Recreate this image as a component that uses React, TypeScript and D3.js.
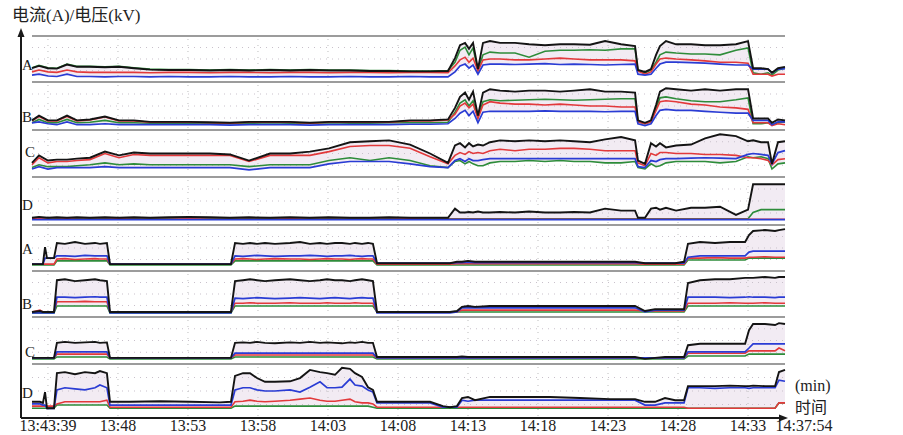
import React from 'react';
import * as d3 from 'd3';

// sample times, minutes after 13:00
const upperMinutes = [41.86, 42.36, 43.0, 43.64, 44.36, 45.07, 46.0, 47.07, 48.07, 49.14, 50.29, 51.64, 53.07, 54.57, 56.0, 57.36, 58.86, 60.29, 61.71, 63.07, 64.57, 66.0, 67.36, 68.86, 70.29, 71.57, 72.07, 72.43, 72.79, 73.07, 73.36, 73.71, 74.07, 74.57, 75.29, 76.36, 77.36, 78.5, 79.57, 80.57, 81.71, 82.79, 83.93, 84.93, 85.14, 85.64, 86.07, 86.43, 86.71, 87.14, 87.86, 88.93, 89.93, 91.0, 92.14, 93.0, 93.36, 93.93, 94.43, 94.71, 95.14, 95.64];
const lowerMinutes = [41.86, 42.43, 42.64, 42.79, 42.93, 43.43, 43.64, 44.21, 44.93, 45.64, 46.36, 46.71, 47.21, 47.43, 48.86, 51.0, 53.14, 55.29, 56.07, 56.36, 56.93, 57.43, 57.93, 58.5, 59.21, 60.29, 61.0, 61.71, 62.43, 62.93, 63.5, 64.0, 64.57, 64.93, 65.43, 65.86, 66.21, 66.5, 68.14, 70.29, 71.21, 71.71, 72.21, 72.57, 73.0, 73.5, 74.57, 76.71, 78.86, 81.0, 83.14, 84.93, 85.64, 86.36, 87.07, 87.79, 88.43, 88.71, 89.57, 90.64, 91.71, 92.79, 93.07, 93.36, 94.21, 94.93, 95.21, 95.64];

const tickMinutes = [43, 48, 53, 58, 63, 68, 73, 78, 83, 88, 93, 97];
const tickLabels = ['13:43:39', '13:48', '13:53', '13:58', '14:03', '14:08', '14:13', '14:18', '14:23', '14:28', '14:33', '14:37:54'];
const panelLabels = ['A', 'B', 'C', 'D', 'A', 'B', 'C', 'D'];

// values in % of each strip's height
const upperABlack = [30,35,30,29,38,33,33,32,33,30,27,26,26,25,26,25,26,25,26,25,25,24,24,23,23,24,52,80,85,72,85,28,85,89,85,85,82,80,82,82,81,89,82,78,26,22,28,59,78,89,82,82,80,80,82,89,30,30,28,20,30,33];
const upperAGreen = [31,36,31,30,39,34,34,33,34,31,28,27,27,26,27,26,27,26,27,26,26,25,25,24,24,25,43,69,76,59,74,26,59,65,63,63,54,67,69,69,70,69,72,72,24,20,26,43,59,65,63,61,61,59,69,74,20,17,20,15,26,30];
const upperARed = [22,26,22,21,26,22,21,21,21,21,20,21,21,20,21,21,20,21,21,20,21,21,20,21,21,20,35,48,54,43,52,24,48,50,50,48,48,50,52,50,48,48,48,46,24,17,22,39,50,52,50,48,46,43,43,41,17,17,17,13,17,17];
const upperABlue = [15,17,13,12,17,12,12,11,12,12,11,12,11,11,12,11,11,12,11,11,12,11,11,12,11,11,22,35,39,30,37,17,37,39,39,38,39,40,38,39,38,37,38,39,17,15,17,30,39,43,43,42,41,39,37,37,28,28,28,20,28,29];

const upperBBlack = [20,30,20,20,30,20,22,28,20,20,17,17,17,16,15,17,17,17,15,17,17,17,17,20,20,22,46,69,78,63,80,30,78,85,82,80,82,82,80,82,85,80,80,78,20,15,20,52,80,87,85,82,85,82,85,85,24,24,24,15,22,20];
const upperBGreen = [15,22,15,15,22,15,16,20,15,15,14,14,14,14,13,14,15,14,14,15,14,14,15,15,15,16,37,56,63,50,61,26,59,63,61,62,63,64,63,62,63,64,65,65,17,13,17,46,67,69,65,61,59,59,63,67,13,13,15,11,15,17];
const upperBRed = [19,28,19,19,28,19,21,27,19,19,16,16,16,15,14,16,16,16,14,16,16,16,16,19,19,21,33,50,56,46,54,24,52,59,56,54,54,52,54,52,50,50,48,48,17,13,17,41,59,61,59,54,52,48,46,43,15,15,15,9,13,11];
const upperBBlue = [15,17,13,11,17,11,11,13,11,11,11,11,11,11,10,11,11,11,10,11,11,11,11,12,12,13,24,35,41,30,39,15,37,39,39,39,39,40,39,39,39,38,39,39,13,9,13,30,41,43,41,41,39,37,35,35,20,20,20,11,17,17];

const upperCBlack = [30,46,35,37,37,39,41,54,46,52,50,50,50,50,48,35,50,50,54,61,74,76,78,69,50,30,67,72,63,72,65,69,67,74,78,76,78,76,78,76,74,80,85,78,35,28,72,65,72,63,67,69,82,91,87,76,78,74,74,28,74,76];
const upperCRed = [26,41,30,33,33,35,37,50,41,48,46,46,46,46,46,33,46,46,46,54,65,67,67,61,43,28,46,52,48,54,50,52,50,56,59,56,59,59,61,61,59,56,56,56,30,24,50,46,52,52,50,50,48,48,46,41,41,39,35,26,37,39];
const upperCGreen = [20,26,22,22,22,24,26,30,26,28,26,26,26,26,26,22,26,26,26,35,41,35,41,35,24,20,33,35,28,33,28,24,24,30,33,33,35,33,35,33,33,30,30,33,20,17,28,22,24,30,33,33,33,30,33,43,41,43,39,17,28,30];
const upperCBlue = [17,22,17,20,20,20,20,22,20,20,20,20,20,20,20,15,20,20,20,28,33,33,33,28,22,20,35,39,33,39,35,35,37,39,39,39,39,39,39,39,39,39,39,39,22,20,35,33,37,39,39,40,41,40,39,48,50,48,46,28,52,56];

const upperDBlack = [15,17,15,16,15,16,15,16,15,16,15,16,17,16,15,16,15,16,15,16,15,15,16,15,15,15,34,26,26,27,26,28,26,26,27,26,28,26,26,27,26,34,30,30,15,15,34,36,32,36,30,36,36,38,21,32,85,85,85,85,85,85];
const upperDGreen = [14,15,13,13,14,13,13,13,14,13,13,13,14,13,13,13,13,14,13,13,13,13,13,14,13,13,13,13,13,13,13,13,13,13,13,13,13,13,13,13,13,13,13,13,13,13,13,13,13,13,13,13,13,13,13,13,26,32,32,32,32,32];
const upperDRed = [13,13,12,12,13,12,12,12,13,12,12,12,13,12,12,12,12,13,12,12,12,12,12,13,12,12,12,12,12,12,12,12,12,12,12,12,12,12,12,12,12,12,12,12,12,12,12,12,12,12,12,12,12,12,12,12,12,12,12,12,12,12];
const upperDBlue = [11,11,11,11,11,11,11,11,11,11,11,11,11,11,11,11,11,11,11,11,11,11,11,11,11,11,11,11,11,11,11,11,11,11,11,11,11,11,11,11,11,11,11,11,11,11,11,11,11,11,11,11,11,11,11,11,11,11,11,11,11,11];

const lowerABlack = [15,15,15,52,28,28,61,59,63,59,61,59,61,15,15,15,15,15,15,61,59,61,59,61,59,61,63,59,61,59,61,61,59,61,59,61,59,17,17,17,17,17,20,20,22,20,20,20,20,20,20,20,17,17,17,17,20,59,63,61,63,63,78,87,89,87,89,91];
const lowerABlue = [15,15,15,28,28,28,33,33,32,34,33,33,33,15,15,15,15,15,15,33,32,33,34,33,32,33,33,34,33,32,33,33,34,33,32,33,33,17,17,17,17,17,18,18,19,18,18,18,18,18,18,18,17,17,17,17,17,30,33,33,33,33,41,43,43,43,43,43];
const lowerARed = [15,15,15,15,15,15,26,27,25,26,27,26,26,15,15,15,15,15,15,26,27,26,25,26,27,26,26,25,26,27,26,26,25,26,27,26,26,15,15,15,15,15,16,16,16,16,16,16,16,16,16,16,15,15,15,15,15,28,28,29,28,28,30,30,31,30,30,30];
const lowerAGreen = [13,13,13,13,13,13,22,22,22,22,22,22,22,13,13,13,13,13,13,22,22,22,22,22,22,22,22,22,22,22,22,22,22,22,22,22,22,13,13,13,13,13,13,13,13,13,13,13,13,13,13,13,13,13,13,13,13,24,24,24,24,24,28,28,28,28,28,28];

const lowerBBlack = [11,13,11,11,11,11,80,82,78,80,82,80,78,11,11,11,11,11,11,78,80,82,80,78,80,82,80,78,80,82,80,80,78,80,82,80,78,11,11,11,11,11,13,22,24,22,24,24,24,24,24,24,13,17,17,17,17,74,80,82,82,85,85,85,87,85,87,87];
const lowerBBlue = [9,9,9,9,9,9,43,43,42,43,44,43,43,9,9,9,9,9,9,41,40,41,42,41,40,41,42,41,40,41,42,41,40,41,42,41,41,9,9,9,9,9,11,20,20,20,20,20,20,20,20,20,11,15,15,15,15,43,43,43,42,43,44,43,43,42,43,43];
const lowerBRed = [11,15,11,11,11,11,33,33,33,34,33,33,33,11,11,11,11,11,11,30,30,31,30,30,30,31,30,30,30,31,30,30,30,31,30,30,30,11,11,11,11,11,11,15,15,15,15,15,15,15,15,15,13,13,13,13,13,30,30,30,31,30,30,30,31,30,30,30];
const lowerBGreen = [9,9,9,9,9,9,24,24,24,24,24,24,24,9,9,9,9,9,9,24,24,24,24,24,24,24,24,24,24,24,24,24,24,24,24,24,24,11,11,11,11,11,11,11,11,11,11,11,11,11,11,11,11,11,11,11,11,24,24,24,24,24,24,24,24,24,24,24];

const lowerCBlack = [13,13,13,13,13,13,45,47,45,46,47,45,46,13,13,13,13,13,13,45,46,45,47,45,44,46,45,47,45,46,45,44,46,45,47,45,45,15,15,15,15,15,15,16,15,15,15,15,15,15,15,15,11,13,15,15,15,40,43,43,43,43,72,85,85,83,87,85];
const lowerCBlue = [13,13,13,13,13,13,26,26,26,26,26,26,26,13,13,13,13,13,13,23,23,23,23,23,23,23,23,23,23,23,23,23,23,23,23,23,23,13,13,13,13,13,13,13,13,13,13,13,13,13,13,13,13,13,13,13,13,26,26,26,26,26,34,43,43,43,43,43];
const lowerCRed = [13,13,13,13,13,13,21,21,21,21,21,21,21,13,13,13,13,13,13,19,19,19,19,19,19,19,19,19,19,19,19,19,19,19,19,19,19,13,13,13,13,13,13,13,13,13,13,13,13,13,13,13,13,13,13,13,13,23,23,23,23,23,28,28,28,28,34,28];
const lowerCGreen = [11,11,11,11,11,11,15,15,15,15,15,15,15,11,11,11,11,11,11,15,15,15,15,15,15,15,15,15,15,15,15,15,15,15,15,15,15,11,11,11,11,11,11,11,11,11,11,11,11,11,11,11,11,11,11,11,11,17,17,17,17,17,21,21,21,21,21,21];

const lowerDBlack = [30,30,28,48,18,18,83,85,81,85,83,87,83,30,30,31,30,29,30,78,83,83,74,67,67,68,74,89,85,83,80,93,91,83,76,57,52,30,30,30,22,20,22,37,39,33,39,39,39,37,35,35,30,30,37,33,33,59,59,59,60,59,59,60,59,59,85,89];
const lowerDBlue = [26,26,24,24,18,18,52,56,54,52,56,61,56,24,24,24,24,24,24,52,56,56,52,50,50,52,48,57,67,56,56,57,72,61,59,52,48,28,28,28,20,20,20,33,31,33,33,33,33,33,33,33,24,24,28,28,28,56,56,55,56,56,55,56,56,56,70,68];
const lowerDRed = [22,22,22,22,22,22,26,30,30,30,30,30,33,20,20,20,20,20,20,30,31,33,31,30,31,33,35,37,33,31,31,33,35,30,28,28,26,20,20,20,20,20,20,20,20,20,20,20,20,20,20,20,20,20,20,20,20,18,18,18,18,18,18,18,18,18,28,28];
const lowerDGreen = [18,18,18,18,18,18,24,24,24,24,24,24,24,18,18,18,18,18,18,22,22,22,22,22,22,22,22,22,22,22,22,22,22,22,22,22,20,18,18,18,18,18,18,18,18,18,18,18,18,18,18,18,18,18,18,18,18,18,18,18,18,18,18,18,18,18,28,28];

const panelSeries = [
  [upperABlack, upperARed, upperAGreen, upperABlue],
  [upperBBlack, upperBRed, upperBGreen, upperBBlue],
  [upperCBlack, upperCRed, upperCGreen, upperCBlue],
  [upperDBlack, upperDRed, upperDGreen, upperDBlue],
  [lowerABlack, lowerARed, lowerAGreen, lowerABlue],
  [lowerBBlack, lowerBRed, lowerBGreen, lowerBBlue],
  [lowerCBlack, lowerCRed, lowerCGreen, lowerCBlue],
  [lowerDBlack, lowerDRed, lowerDGreen, lowerDBlue],
];

// layout
const W = 903, H = 435;
const stripTop = [36, 82, 130, 177, 225, 271, 317, 364];
const axisY = 418;
const labelLift = [12, 8, 20, 15, 17, 8, 7, 20];
const colors = { black: '#141414', red: '#e2393b', green: '#2e8c3a', blue: '#2a3cd4' };
const serif = "'Liberation Serif', 'Noto Sans CJK SC', serif";

const toDate = (m: number) => new Date(2000, 0, 1, 13, 0, 0, Math.round(m * 60000));

export default function App() {
  const x = d3.scaleTime()
    .domain([toDate(41.86), toDate(95.64)])
    .range([32, 785]);

  const strips = panelSeries.map((series, i) => {
    const top = stripTop[i];
    const bottom = i < 7 ? stripTop[i + 1] : axisY;
    const y = d3.scaleLinear().domain([0, 100]).range([bottom, top]);
    const times = i < 4 ? upperMinutes : lowerMinutes;
    const rows = times.map((m, k) => ({
      t: toDate(m),
      black: series[0][k],
      red: series[1][k],
      green: series[2][k],
      blue: series[3][k],
    }));
    return { top, bottom, y, rows };
  });

  const gridTicks = tickMinutes.slice(0, -1);

  return (
    <svg width={W} height={H} style={{ position: 'absolute', left: 0, top: 0, background: '#fff' }}>
      <text x={12} y={21} fontFamily={serif} fontSize={17} fill="#222">电流(A)/电压(kV)</text>

      {strips.map((s, i) => {
        const area = d3.area<any>()
          .x(d => x(d.t))
          .y0(d => s.y(Math.min(d.red, d.green, d.blue)))
          .y1(d => s.y(d.black));
        const line = (key: string) => d3.line<any>()
          .x(d => x(d.t))
          .y(d => s.y(d[key]))(s.rows) || '';
        return (
          <g key={i}>
            <path d={area(s.rows) || ''} fill="#f2ebf3" />
            {[0.25, 0.5, 0.75].map(f => (
              <line key={f} x1={32} x2={785} y1={s.top + (s.bottom - s.top) * f} y2={s.top + (s.bottom - s.top) * f}
                stroke="#c9c1cb" strokeWidth={1} strokeDasharray="1,5" />
            ))}
            {gridTicks.map(m => (
              <line key={m} x1={x(toDate(m))} x2={x(toDate(m))} y1={s.top + 3} y2={s.bottom - 2}
                stroke="#bdbdbd" strokeWidth={1} strokeDasharray="1,5" />
            ))}
            <path d={line('green')} fill="none" stroke={colors.green} strokeWidth={1.6} />
            <path d={line('red')} fill="none" stroke={colors.red} strokeWidth={1.6} />
            <path d={line('blue')} fill="none" stroke={colors.blue} strokeWidth={1.7} />
            <path d={line('black')} fill="none" stroke={colors.black} strokeWidth={1.9} />
            <text x={i === 2 || i === 6 ? 25 : 22} y={s.bottom - labelLift[i]} fontFamily={serif} fontSize={15} fill="#222">
              {panelLabels[i]}
            </text>
          </g>
        );
      })}

      {stripTop.map((yy, i) => (
        <line key={i} x1={32} x2={785} y1={yy} y2={yy} stroke="#9c9c9c" strokeWidth={2} />
      ))}

      {/* axes */}
      <line x1={21} x2={21} y1={axisY} y2={34} stroke="#1a1a1a" strokeWidth={2} />
      <path d="M21,28 L17.5,37 L24.5,37 Z" fill="#1a1a1a" />
      <line x1={21} x2={781} y1={axisY} y2={axisY} stroke="#1a1a1a" strokeWidth={2} />
      <path d="M788,418 L779,414.5 L779,421.5 Z" fill="#1a1a1a" />

      {tickMinutes.map((m, i) => (
        <text key={m} x={x(toDate(m))} y={431} textAnchor="middle" fontFamily={serif} fontSize={16} fill="#222">
          {tickLabels[i]}
        </text>
      ))}
      <text x={795} y={391} fontFamily={serif} fontSize={16} fill="#222">(min)</text>
      <text x={795} y={413} fontFamily={serif} fontSize={16} fill="#222">时间</text>
    </svg>
  );
}
